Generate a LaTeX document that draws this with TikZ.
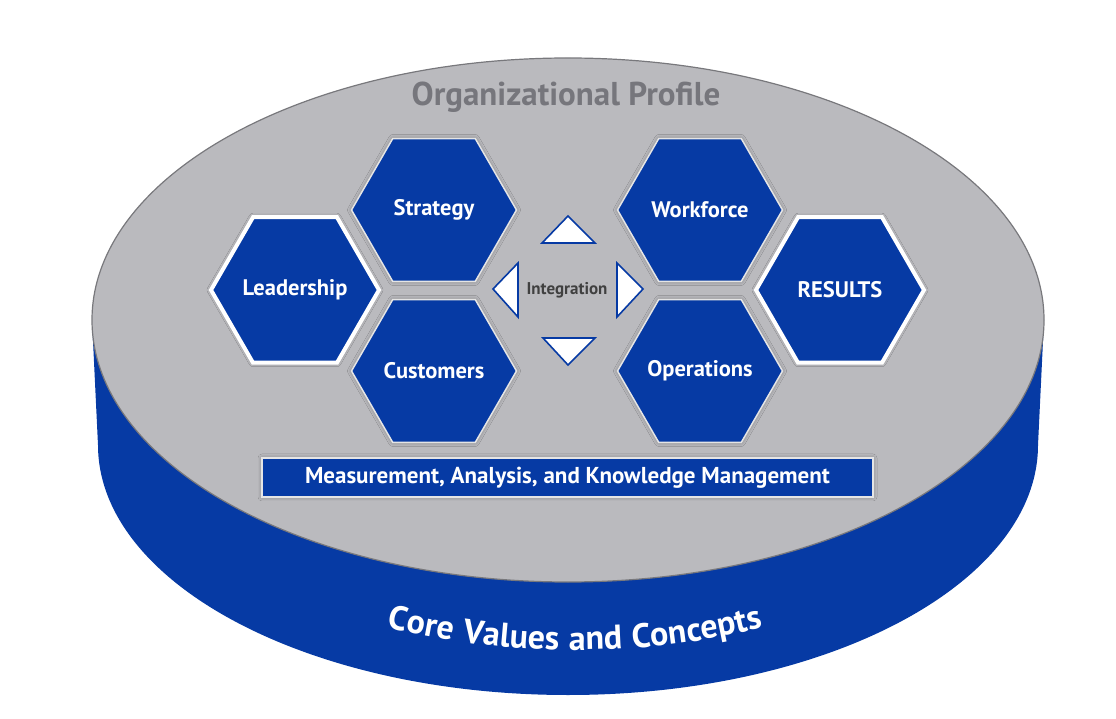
\documentclass[tikz,border=0pt]{standalone}
\usepackage{fontspec}
\setmainfont{PT Sans}
\usetikzlibrary{shapes.geometric,decorations.text,shadows.blur}
\definecolor{baldrigeblue}{RGB}{6,58,164}
\definecolor{plategray}{RGB}{186,186,190}
\definecolor{rimgray}{RGB}{120,120,124}
\definecolor{titlegray}{RGB}{118,118,124}
\begin{document}
\begin{tikzpicture}[x=1pt,y=1pt]
  \tikzset{hexbox/.style={regular polygon, regular polygon sides=6, minimum size=165pt, inner sep=-15pt, fill=baldrigeblue, draw=gray!20, line width=1.5pt, text=white, font=\fontsize{22.5}{22.5}\selectfont\bfseries, blur shadow={shadow xshift=0pt, shadow yshift=0pt, shadow blur radius=4pt, shadow opacity=35}},
    keybox/.style={hexbox, draw=white, line width=4pt, minimum size=168pt},
    tri/.style={fill=white, draw=baldrigeblue, line width=1.6pt, line join=miter}}
  \useasboundingbox (0,0) rectangle (1116,718);
  % cylinder: blue rim, gray top
  \fill[baldrigeblue] (92,398) -- (98,273) arc[start angle=180, end angle=360, x radius=470, y radius=250] -- (1044,398) -- cycle;
  \filldraw[fill=plategray, draw=rimgray, line width=1.2pt] (568,398) ellipse[x radius=476, y radius=262];
  \node[text=titlegray, font=\fontsize{33}{33}\selectfont\bfseries] (profile) at (566,621) {Organizational Profile};
  % the six categories
  \node[hexbox] (strategy) at (434,508) {Strategy};
  \node[hexbox] (customers) at (434,347) {Customers};
  \node[keybox] (leadership) at (295,428) {Leadership};
  \node[hexbox] (workforce) at (700,508) {Workforce};
  \node[hexbox] (operations) at (700,347) {Operations};
  \node[keybox] (results) at (840,428) {RESULTS};
  % integration arrows
  \node[font=\fontsize{17}{17}\selectfont\bfseries, text=black!75] (integration) at (567,428) {Integration};
  \filldraw[tri] (568,502) -- (542,475) -- (595,475) -- cycle;
  \filldraw[tri] (568,353) -- (543,380) -- (595,380) -- cycle;
  \filldraw[tri] (493,429) -- (518,455) -- (518,401) -- cycle;
  \filldraw[tri] (643,429) -- (617,455) -- (617,401) -- cycle;
  \node[draw=gray!20, line width=1.5pt, fill=baldrigeblue, minimum width=611pt, minimum height=39pt, inner sep=0pt, text=white, font=\fontsize{23}{23}\selectfont\bfseries, blur shadow={shadow xshift=0pt, shadow yshift=0pt, shadow blur radius=4pt, shadow opacity=35}] (mak) at (567.5,240.5) {Measurement, Analysis, and Knowledge Management};
  \path[decorate, decoration={text along path, text align=center, text color=white, text={|\fontsize{34}{34}\selectfont\bfseries\addfontfeatures{LetterSpace=4}|Core Values and Concepts}}] (575,328) ++(242:460 and 260) arc[start angle=242, end angle=298, x radius=460, y radius=260];
\end{tikzpicture}
\end{document}
